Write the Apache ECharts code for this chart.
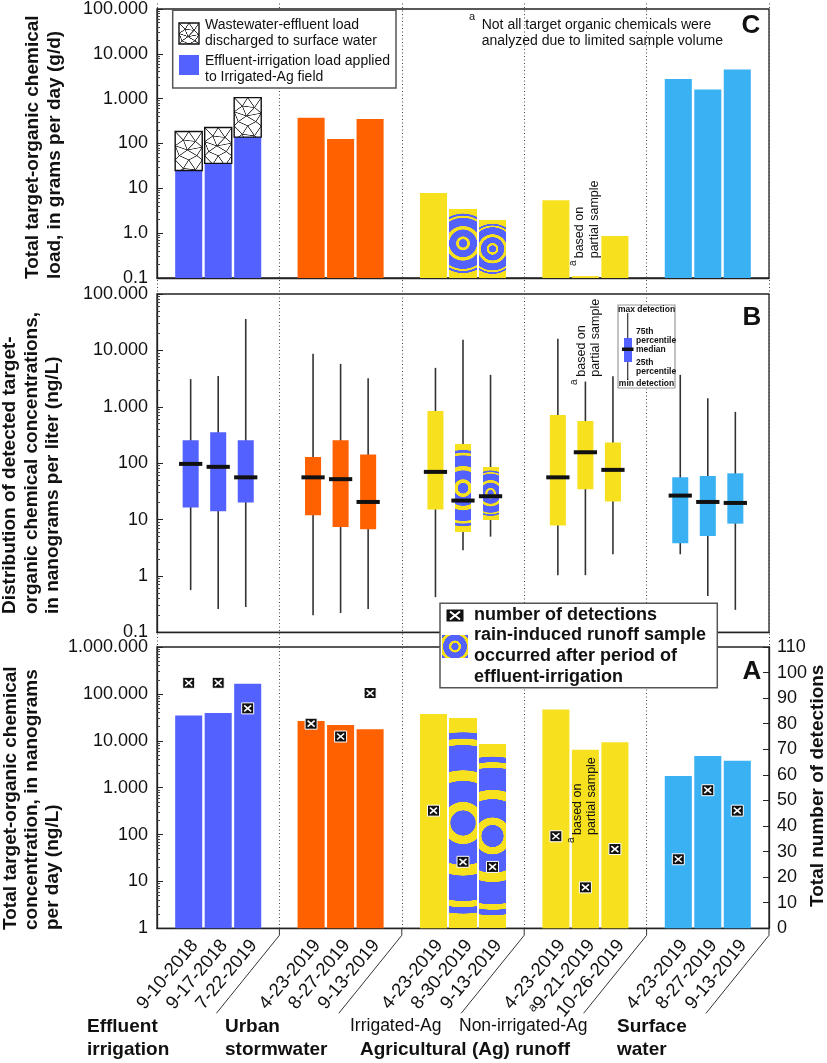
<!DOCTYPE html>
<html><head><meta charset="utf-8">
<script src="https://cdn.jsdelivr.net/npm/echarts@6.0.0/dist/echarts.min.js"></script>
<style>html,body{margin:0;padding:0;background:#fff}#chart{width:827px;height:1063px}</style>
</head><body><div id="chart"></div>
<script>
// ---------------- data ----------------
const groups = ['Effluent irrigation', 'Urban stormwater', 'Irrigated-Ag', 'Non-irrigated-Ag', 'Surface water'];
const sampleDates = ['9-10-2018','9-17-2018','7-22-2019','4-23-2019','8-27-2019','9-13-2019','4-23-2019','8-30-2019','9-13-2019','4-23-2019','9-21-2019','10-26-2019','4-23-2019','8-27-2019','9-13-2019'];
const partialSample = [0,0,0,0,0,0,0,0,0,0,1,0,0,0,0];
const rainAfterIrrigation = [0,0,0,0,0,0,0,1,1,0,0,0,0,0,0];
// Panel C: load, g/d
const loadApplied = [25, 36, 139, 375, 126, 350, 7.9, 3.5, 2.0, 5.4, 0.11, 0.87, 2750, 1610, 4475];
const loadDischarged = [185, 227, 1057];
// Panel B: distribution of detected concentrations, ng/L
const concMin = [0.56, 0.26, 0.28, 0.20, 0.22, 0.26, 0.42, 2.85, 4.97, 1.03, 1.03, 2.42, 2.42, 0.44, 0.25];
const concQ1 = [16.3, 14, 20, 11.9, 7.4, 6.7, 15, 5.9, 10, 7.8, 34.5, 20.8, 3.8, 5.1, 8.45];
const concMedian = [97, 86, 56, 56, 52, 20.5, 70, 21.7, 25.9, 56, 156, 76, 26.6, 20.5, 19.7];
const concQ3 = [255, 354, 255, 128, 255, 142, 845, 220, 86, 718, 562, 232, 56, 59, 66];
const concMax = [3090, 3530, 35900, 8690, 5770, 3220, 4900, 15400, 3680, 16000, 2800, 3490, 3680, 1420, 812];
// Panel A
const totalConc = [34400, 39300, 163700, 26500, 21800, 17500, 37400, 31200, 8670, 46200, 6450, 9250, 1770, 4730, 3760];
const detections = [96, 96, 86, 80, 75, 92, 46, 26, 24, 36, 16, 31, 27, 54, 46];
// tick labels
const loadTickLabels = ['0.1', '1.0', '10', '100', '1.000', '10.000', '100.000'];
const concTickLabels = ['0.1', '1', '10', '100', '1.000', '10.000', '100.000'];
const totalTickLabels = ['1', '10', '100', '1.000', '10.000', '100.000', '1.000.000'];

// ---------------- style ----------------
const FONT = "'Liberation Sans', Arial, sans-serif";
const BLUE = '#5361FE', ORANGE = '#FF6000', YELLOW = '#F7E11F', SKY = '#3AB1F2';
const groupColors = [BLUE, ORANGE, YELLOW, YELLOW, SKY];
const BAR_STEP = 0.241, BAR_W = 0.221, BOX_STEP = 0.225, BOX_W = 0.131, MED_W = 0.19;
const RING_BANDS = [[0.06, BLUE], [0.1, YELLOW], [0.2, BLUE], [0.25, YELLOW], [0.37, BLUE], [0.4, YELLOW], [0.43, BLUE]];
const MESH_PTS = [[0,0],[0.5,0],[1,0],[0.3,0.3],[0.75,0.35],[0,0.5],[1,0.55],[0.45,0.65],[0.15,0.85],[0.8,0.85],[0,1],[0.5,1],[1,1]];
const MESH_EDGES = [[0,3],[1,3],[1,4],[2,4],[3,4],[3,5],[4,6],[3,7],[4,7],[5,7],[6,7],[5,8],[7,8],[7,9],[6,9],[8,10],[8,11],[9,11],[9,12]];

const canvasCache = {};
function ringCanvas(w, h, scale) {
  scale = scale || h;
  const key = 'r' + w.toFixed(1) + 'x' + h.toFixed(1) + 's' + scale;
  if (canvasCache[key]) return canvasCache[key];
  const k = 3, c = document.createElement('canvas');
  c.width = Math.max(1, Math.round(w * k)); c.height = Math.max(1, Math.round(h * k));
  const ctx = c.getContext('2d'); ctx.scale(k, k);
  ctx.fillStyle = YELLOW; ctx.fillRect(0, 0, w, h);
  ctx.filter = 'blur(0.6px)';
  for (let j = RING_BANDS.length - 1; j >= 0; j--) {
    ctx.beginPath(); ctx.arc(w / 2, h / 2, RING_BANDS[j][0] * scale, 0, Math.PI * 2);
    ctx.fillStyle = RING_BANDS[j][1]; ctx.fill();
  }
  canvasCache[key] = c; return c;
}
function hatchCanvas(w, h) {
  const key = 'h' + w.toFixed(1) + 'x' + h.toFixed(1);
  if (canvasCache[key]) return canvasCache[key];
  const k = 3, c = document.createElement('canvas');
  c.width = Math.max(1, Math.round(w * k)); c.height = Math.max(1, Math.round(h * k));
  const ctx = c.getContext('2d'); ctx.scale(k, k);
  ctx.fillStyle = '#fff'; ctx.fillRect(0, 0, w, h);
  ctx.strokeStyle = '#333'; ctx.lineWidth = 0.8;
  const T = w * 1.05;
  for (let t = 0; t < h; t += T) {
    MESH_EDGES.forEach(e => {
      const a = MESH_PTS[e[0]], b = MESH_PTS[e[1]];
      ctx.beginPath(); ctx.moveTo(a[0] * w, t + a[1] * T); ctx.lineTo(b[0] * w, t + b[1] * T); ctx.stroke();
    });
  }
  canvasCache[key] = c; return c;
}

// ---------------- renderers ----------------
function slotGeom(api, g, s, step) {
  const band = api.size([1, 1], [0, 1])[0];
  const c = api.coord([g, 1])[0];
  return { band, gc: c, cx: c + (s - 1) * step * band };
}
function renderBars(params, api) {
  const g = api.value(0), s = api.value(1), v = api.value(2);
  const { band, cx } = slotGeom(api, g, s, BAR_STEP);
  const w = BAR_W * band, x = cx - w / 2;
  const top = api.coord([g, v])[1];
  const cs = params.coordSys, bottom = cs.y + cs.height, h = bottom - top;
  const i = params.dataIndex;
  if (rainAfterIrrigation[i]) return { type: 'image', style: { image: ringCanvas(w, h), x: x, y: top, width: w, height: h } };
  return { type: 'rect', shape: { x: x, y: top, width: w, height: h }, style: { fill: groupColors[g] } };
}
function renderHatch(params, api) {
  const g = api.value(0), s = api.value(1);
  const y0 = api.coord([g, api.value(2)])[1], y1 = api.coord([g, api.value(3)])[1];
  const { band, cx } = slotGeom(api, g, s, BAR_STEP);
  const w = BAR_W * band, x = cx - w / 2, h = y0 - y1;
  return { type: 'group', children: [
    { type: 'image', style: { image: hatchCanvas(w, h), x: x, y: y1, width: w, height: h } },
    { type: 'rect', shape: { x: x, y: y1, width: w, height: h }, style: { fill: null, stroke: '#111', lineWidth: 1.4 } }
  ] };
}
function renderBox(params, api) {
  const g = api.value(0), s = api.value(1);
  const y = [2, 3, 4, 5, 6].map(d => api.coord([g, api.value(d)])[1]);
  const { band, cx } = slotGeom(api, g, s, BOX_STEP);
  const w = BOX_W * band, mw = MED_W * band;
  const i = params.dataIndex;
  const boxH = y[1] - y[3];
  const box = rainAfterIrrigation[i]
    ? { type: 'image', style: { image: ringCanvas(w, boxH), x: cx - w / 2, y: y[3], width: w, height: boxH } }
    : { type: 'rect', shape: { x: cx - w / 2, y: y[3], width: w, height: boxH }, style: { fill: groupColors[g] } };
  return { type: 'group', children: [
    { type: 'line', shape: { x1: cx, y1: y[4], x2: cx, y2: y[0] }, style: { stroke: '#333', lineWidth: 1.6 } },
    box,
    { type: 'rect', shape: { x: cx - mw / 2, y: y[2] - 2, width: mw, height: 4 }, style: { fill: '#111' } }
  ] };
}
function renderMarker(params, api) {
  const g = api.value(0), s = api.value(1);
  const { cx } = slotGeom(api, g, s, BAR_STEP);
  const cy = api.coord([g, api.value(2)])[1];
  return { type: 'group', children: [
    { type: 'rect', shape: { x: cx - 6, y: cy - 5.5, width: 12, height: 11 }, style: { fill: '#111', stroke: '#fff', lineWidth: 1 } },
    { type: 'line', shape: { x1: cx - 3.5, y1: cy - 3, x2: cx + 3.5, y2: cy + 3 }, style: { stroke: '#fff', lineWidth: 1.6 } },
    { type: 'line', shape: { x1: cx - 3.5, y1: cy + 3, x2: cx + 3.5, y2: cy - 3 }, style: { stroke: '#fff', lineWidth: 1.6 } }
  ] };
}
function renderDateLabel(params, api) {
  const g = api.value(0), s = api.value(1);
  const { band, gc, cx } = slotGeom(api, g, s, BAR_STEP);
  const cs = params.coordSys, bottom = cs.y + cs.height;
  const i = params.dataIndex;
  const children = [{ type: 'text', x: cx + 6, y: bottom + 14, rotation: 50 * Math.PI / 180,
    style: { text: (partialSample[i] ? 'ᵃ' : '') + sampleDates[i], font: '18.5px ' + FONT, fill: '#111', align: 'right', verticalAlign: 'middle' } }];
  if (s === 2) {
    const xb = gc + band / 2;
    children.push({ type: 'polyline', shape: { points: [[xb, bottom], [xb, bottom + 7], [xb - 63, bottom + 85]] }, style: { stroke: '#333', lineWidth: 1, fill: null } });
  }
  return { type: 'group', children };
}

// ---------------- data items ----------------
const gs = i => [Math.floor(i / 3), i % 3];
const barDataC = loadApplied.map((v, i) => gs(i).concat([v]));
const hatchDataC = loadDischarged.map((v, i) => gs(i).concat([loadApplied[i], v]));
const boxDataB = concMin.map((v, i) => gs(i).concat([v, concQ1[i], concMedian[i], concQ3[i], concMax[i]]));
const barDataA = totalConc.map((v, i) => gs(i).concat([v]));
const markerDataA = detections.map((v, i) => gs(i).concat([v]));
const labelDataA = sampleDates.map((d, i) => gs(i).concat([0]));

// ---------------- axes ----------------
const gridBase = { left: 157, width: 612, show: true, borderColor: '#222', borderWidth: 1.3, backgroundColor: 'transparent' };
function logAxis(gridIndex, min, max, labels) {
  const minExp = Math.round(Math.log10(min));
  return {
    type: 'log', logBase: 10, gridIndex, min, max,
    axisLine: { show: true, lineStyle: { color: '#222', width: 1.3 } },
    axisTick: { show: true, inside: true, length: 6, lineStyle: { color: '#222' } },
    minorTick: { show: true, splitNumber: 9, length: 3, lineStyle: { color: '#444' } },
    splitLine: { show: false }, minorSplitLine: { show: false },
    axisLabel: { fontSize: 18, fontFamily: FONT, color: '#111', margin: 9,
      formatter: v => labels[Math.round(Math.log10(v)) - minExp] }
  };
}
const catAxis = gi => ({ type: 'category', gridIndex: gi, data: groups, boundaryGap: true,
  axisLine: { show: true, lineStyle: { color: '#222', width: 1.3 } }, axisTick: { show: false }, axisLabel: { show: false }, splitLine: { show: false } });

// ---------------- graphics (titles, legends, notes) ----------------
const T = (x, y, text, size, opts) => Object.assign({ type: 'text', x, y, z: 20,
  style: Object.assign({ text, font: (opts && opts.bold ? 'bold ' : '') + size + 'px ' + FONT, fill: '#111', align: 'left', verticalAlign: 'middle' }, opts && opts.style) },
  opts && opts.rot ? { rotation: Math.PI / 2 } : {});
const VT = (x, y, text, size, bold) => T(x, y, text, size, { rot: true, bold });

const graphics = [
  // y-axis titles
  VT(33, 279, 'Total target-organic chemical', 19, true),
  VT(55, 279, 'load, in grams per day (g/d)', 19, true),
  VT(10, 614, 'Distribution of detected target-', 19, true),
  VT(32, 614, 'organic chemical concentrations,', 19, true),
  VT(53, 614, 'in nanograms per liter (ng/L)', 19, true),
  VT(11, 930, 'Total target-organic chemical', 19, true),
  VT(32, 930, 'concentration, in nanograms', 19, true),
  VT(53, 930, 'per day (ng/L)', 19, true),
  VT(818, 907, 'Total number of detections', 19, true),
  // panel letters
  T(751, 26, 'C', 26, { bold: true, style: { align: 'center' } }),
  T(752, 318, 'B', 26, { bold: true, style: { align: 'center' } }),
  T(752, 672, 'A', 26, { bold: true, style: { align: 'center' } }),
  // legend C
  { type: 'rect', z: 15, shape: { x: 172.7, y: 10.3, width: 223.3, height: 77.7 }, style: { fill: '#fff', stroke: '#555', lineWidth: 1.5 } },
  { type: 'image', z: 16, x: 179, y: 23, style: { image: hatchCanvas(20, 21), width: 20, height: 21 } },
  { type: 'rect', z: 16, shape: { x: 179, y: 23, width: 20, height: 21 }, style: { fill: null, stroke: '#111', lineWidth: 1.4 } },
  { type: 'rect', z: 16, shape: { x: 179, y: 55, width: 20, height: 20 }, style: { fill: BLUE } },
  T(205, 25, 'Wastewater-effluent load', 14),
  T(205, 41, 'discharged to surface water', 14),
  T(205, 61, 'Effluent-irrigation load applied', 14),
  T(205, 77, 'to Irrigated-Ag field', 14),
  // note C
  T(469, 17, 'a', 11),
  T(481.7, 25, 'Not all target organic chemicals were', 14),
  T(481.7, 41, 'analyzed due to limited sample volume', 14),
  // partial sample notes
  VT(580, 258.3, 'based on', 12.5), VT(594.5, 258.3, 'partial sample', 12.5), VT(573, 266, 'a', 10),
  VT(581.7, 376.7, 'based on', 12.5), VT(595.5, 376.7, 'partial sample', 12.5), VT(574, 385, 'a', 10),
  VT(578, 835, 'based on', 12.5), VT(591.7, 835, 'partial sample', 12.5), VT(571.7, 843, 'a', 10),
  // box legend (B)
  { type: 'rect', z: 15, shape: { x: 618, y: 305, width: 57, height: 83 }, style: { fill: '#fff', stroke: '#999', lineWidth: 1.2 } },
  { type: 'line', z: 16, shape: { x1: 627.7, y1: 313, x2: 627.7, y2: 380 }, style: { stroke: '#333', lineWidth: 1.2 } },
  { type: 'rect', z: 16, shape: { x: 624, y: 338, width: 8, height: 24 }, style: { fill: BLUE } },
  { type: 'rect', z: 17, shape: { x: 622, y: 347.5, width: 11.5, height: 3.5 }, style: { fill: '#111' } },
  T(646.5, 309.5, 'max detection', 8.5, { bold: true, style: { align: 'center' } }),
  T(636, 331.5, '75th', 8.5, { bold: true }),
  T(636, 340.5, 'percentile', 8.5, { bold: true }),
  T(636, 350, 'median', 8.5, { bold: true }),
  T(636, 362.5, '25th', 8.5, { bold: true }),
  T(636, 371.5, 'percentile', 8.5, { bold: true }),
  T(646.5, 383.5, 'min detection', 8.5, { bold: true, style: { align: 'center' } }),
  // legend A
  { type: 'rect', z: 15, shape: { x: 440, y: 603.3, width: 277.3, height: 84.4 }, style: { fill: '#fff', stroke: '#555', lineWidth: 1.5 } },
  { type: 'rect', z: 16, shape: { x: 446, y: 609, width: 18, height: 13 }, style: { fill: '#111', stroke: '#fff', lineWidth: 1 } },
  { type: 'line', z: 17, shape: { x1: 450, y1: 611.5, x2: 460, y2: 619.5 }, style: { stroke: '#fff', lineWidth: 2 } },
  { type: 'line', z: 17, shape: { x1: 450, y1: 619.5, x2: 460, y2: 611.5 }, style: { stroke: '#fff', lineWidth: 2 } },
  { type: 'image', z: 16, x: 441.7, y: 635, style: { image: ringCanvas(26.6, 23, 60), width: 26.6, height: 23 } },
  T(474, 615, 'number of detections', 18, { bold: true }),
  T(474, 635, 'rain-induced runoff sample', 18, { bold: true }),
  T(474, 656, 'occurred after period of', 18, { bold: true }),
  T(474, 677, 'effluent-irrigation', 18, { bold: true }),
  // group labels
  T(87, 1027, 'Effluent', 19, { bold: true }),
  T(87, 1050, 'irrigation', 19, { bold: true }),
  T(225, 1027, 'Urban', 19, { bold: true }),
  T(225, 1050, 'stormwater', 19, { bold: true }),
  T(350, 1026, 'Irrigated-Ag', 17.5),
  T(459, 1026, 'Non-irrigated-Ag', 17.5),
  T(360, 1050, 'Agricultural (Ag) runoff', 19, { bold: true }),
  T(617, 1027, 'Surface', 19, { bold: true }),
  T(617, 1050, 'water', 19, { bold: true })
];

const option = {
  animation: false,
  backgroundColor: '#fff',
  grid: [
    Object.assign({}, gridBase, { top: 3.5, height: 274.5 }),
    Object.assign({}, gridBase, { top: 294, height: 338.3 }),
    Object.assign({}, gridBase, { top: 647, height: 281.3 }),
    { left: 157, width: 612, top: 3.5, height: 924.8, show: false }
  ],
  xAxis: [catAxis(0), catAxis(1), catAxis(2),
    { type: 'category', gridIndex: 3, data: groups, boundaryGap: true, axisLine: { show: false }, axisTick: { show: false }, axisLabel: { show: false },
      splitLine: { show: true, interval: 0, lineStyle: { color: '#444', type: [1, 2.5], width: 1 } } }],
  yAxis: [
    logAxis(0, 0.1, 100000, loadTickLabels),
    logAxis(1, 0.1, 100000, concTickLabels),
    logAxis(2, 1, 1000000, totalTickLabels),
    { type: 'value', gridIndex: 2, position: 'right', min: 0, max: 110, interval: 10,
      axisLine: { show: true, lineStyle: { color: '#222', width: 1.3 } },
      axisTick: { show: true, inside: true, length: 6, lineStyle: { color: '#222' } },
      splitLine: { show: false },
      axisLabel: { fontSize: 18, fontFamily: FONT, color: '#111', margin: 8 } },
    { type: 'value', gridIndex: 3, min: 0, max: 1, show: false }
  ],
  graphic: { elements: graphics },
  series: [
    { type: 'custom', name: 'Wastewater-effluent load', xAxisIndex: 0, yAxisIndex: 0, data: hatchDataC, encode: { x: 0, y: [2, 3] }, renderItem: renderHatch, z: 3 },
    { type: 'custom', name: 'Load', xAxisIndex: 0, yAxisIndex: 0, data: barDataC, encode: { x: 0, y: 2 }, renderItem: renderBars, z: 2 },
    { type: 'custom', name: 'Concentration distribution', xAxisIndex: 1, yAxisIndex: 1, data: boxDataB, encode: { x: 0, y: [2, 3, 4, 5, 6] }, renderItem: renderBox, z: 2 },
    { type: 'custom', name: 'Total concentration', xAxisIndex: 2, yAxisIndex: 2, data: barDataA, encode: { x: 0, y: 2 }, renderItem: renderBars, z: 2 },
    { type: 'custom', name: 'Number of detections', xAxisIndex: 2, yAxisIndex: 3, data: markerDataA, encode: { x: 0, y: 2 }, renderItem: renderMarker, z: 4 },
    { type: 'custom', name: 'Sample dates', xAxisIndex: 2, yAxisIndex: 3, data: labelDataA, encode: { x: 0, y: 2 }, renderItem: renderDateLabel, clip: false, z: 4, silent: true }
  ]
};
const chart = echarts.init(document.getElementById('chart'), null, { renderer: 'canvas' });
chart.setOption(option);
</script>
</body></html>
